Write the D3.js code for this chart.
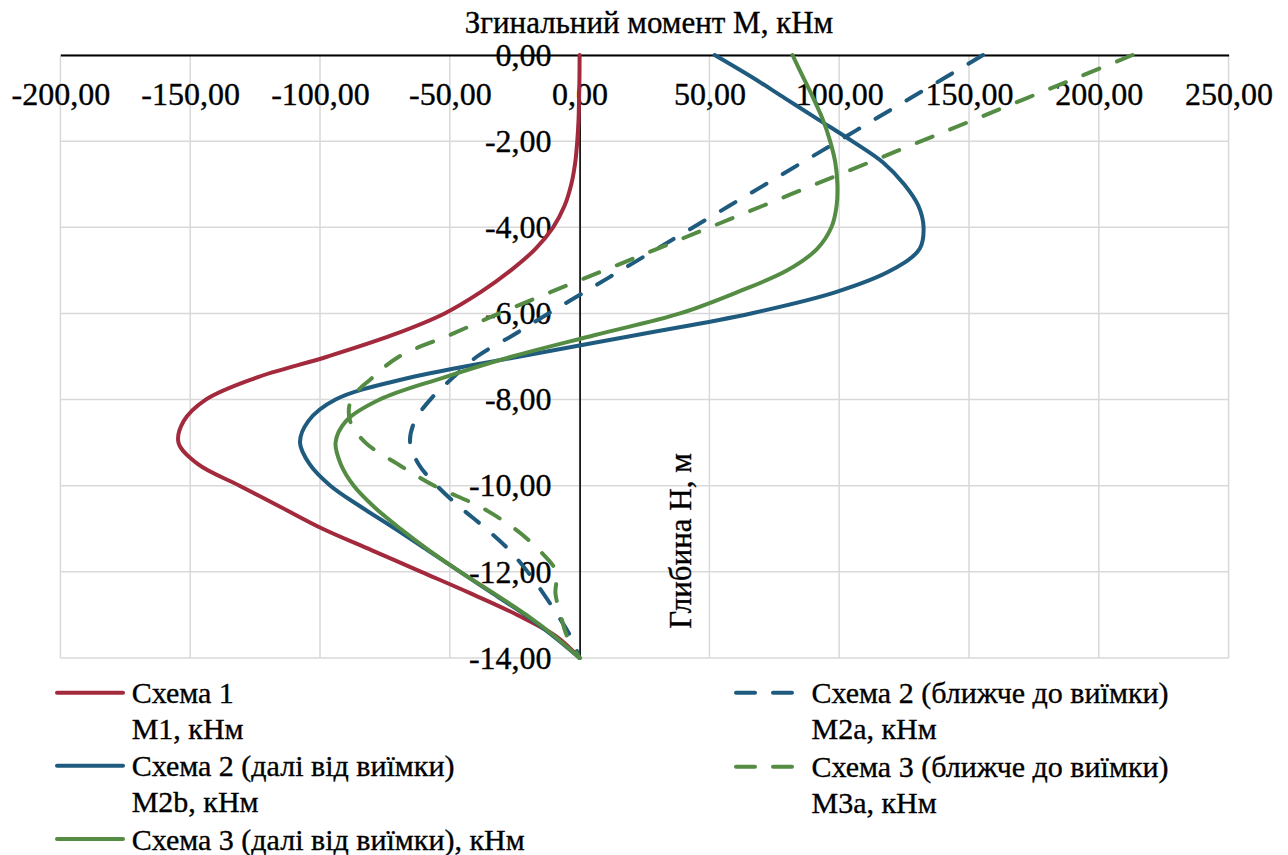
<!DOCTYPE html>
<html>
<head>
<meta charset="utf-8">
<script src="https://cdn.jsdelivr.net/npm/d3@7/dist/d3.min.js"></script>
<style>
  html, body { margin: 0; padding: 0; background: #fff; }
  svg text { font-family: 'Liberation Serif', 'Times New Roman', Tinos, 'DejaVu Serif', serif; }
</style>
</head>
<body>
<svg id="chart" width="1288" height="855"></svg>
<script>
// Depth along the pile, m (0 at the top, -14 at the toe)
const depths = [0, -0.5, -1, -1.5, -2, -2.5, -3, -3.5, -4, -4.5, -5, -5.5, -6, -6.5, -7,
  -7.5, -8, -8.5, -9, -9.5, -10, -10.5, -11, -11.5, -12, -12.5, -13, -13.5, -14];

// Bending moment, kN·m, at each depth
const m1 = [0, -0.05, -0.2, -0.4, -0.9, -1.7, -3.2, -5.8, -10.2, -17, -26.5, -38, -52, -72, -97,
  -125, -144, -152.5, -154.5, -147, -131, -115, -99, -80, -61, -42, -24, -9, 0];
const m2a = [155.4, 141.5, 127.5, 113.5, 99.6, 85.6, 71.7, 57.7, 43.8, 29.8, 15.9, 2, -12, -25.5, -39.5,
  -49, -57.5, -63.5, -65.3, -62, -55, -46, -36, -27, -20, -14, -8.5, -3.5, 0];
const m2b = [52, 66, 79, 92, 105, 117, 125, 130.5, 132.5, 131, 120, 99, 66, 22, -23,
  -66, -94, -104.5, -107.7, -104, -96, -84, -71, -58.5, -46, -33.5, -21, -10, 0];
const m3a = [213, 192.7, 172.3, 152, 131.6, 111.3, 90.9, 70.6, 50.2, 29.9, 9.5, -11, -31, -50, -69.5,
  -80, -88, -88.4, -82.5, -70, -56, -38, -25, -15.5, -9, -9.3, -7.3, -4.8, 0];
const m3b = [82, 86, 90, 93.7, 96.5, 98.5, 99.3, 99, 97, 91.5, 80, 61, 38.7, 6, -26,
  -53, -77, -90, -94, -92, -87, -79, -69, -58, -46, -33, -20.5, -9.5, 0];

const xTicks = [-200, -150, -100, -50, 0, 50, 100, 150, 200, 250];
const yTicks = [0, -2, -4, -6, -8, -10, -12, -14];

const seriesNames = [
  ["Схема 1", "М1, кНм"],
  ["Схема 2 (ближче до виїмки)", "М2а, кНм"],
  ["Схема 2 (далі від виїмки)", "М2b, кНм"],
  ["Схема 3 (ближче до виїмки)", "М3а, кНм"],
  ["Схема 3 (далі від виїмки), кНм"]
];
const seriesValues = [m1, m2a, m2b, m3a, m3b];
const seriesColors = ["#A3293D", "#1F5B7F", "#1F5B7F", "#548C44", "#548C44"];
const seriesDashed = [false, true, false, true, false];

const xTitle = "Згинальний момент М, кНм";
const yTitle = "Глибина Н, м";

const FONT = "'Liberation Serif', 'Times New Roman', Tinos, 'DejaVu Serif', serif";

const svg = d3.select("#chart");

const x = d3.scaleLinear().domain([-200, 250]).range([60.4, 1228.6]);
const y = d3.scaleLinear().domain([0, -14]).range([55, 658]);

const locale = d3.formatLocale({ decimal: ",", thousands: " ", grouping: [3], currency: ["", ""], minus: "-" });
const fmt = locale.format(".2f");

// text helper: serif face with a slightly heavier outline
function styleText(sel, size) {
  sel.style("font-family", FONT).style("font-size", size + "px")
    .attr("fill", "#000").attr("stroke", "#000").attr("stroke-width", 0.35);
  return sel;
}

// gridlines
const grid = svg.append("g").attr("stroke", "#D9D9D9").attr("stroke-width", 1.5);
grid.selectAll("line.v").data(xTicks).join("line").attr("class", "v")
  .attr("x1", d => x(d)).attr("x2", d => x(d)).attr("y1", y(0)).attr("y2", y(-14));
grid.selectAll("line.h").data(yTicks).join("line").attr("class", "h")
  .attr("x1", x(-200)).attr("x2", x(250)).attr("y1", d => y(d)).attr("y2", d => y(d));

// horizontal axis along the top edge, labels below it
const xAxis = svg.append("g").attr("transform", `translate(0,${y(0)})`)
  .call(d3.axisBottom(x).tickValues(xTicks).tickFormat(fmt).tickSize(0).tickSizeOuter(0).tickPadding(27));
xAxis.attr("font-family", null).attr("font-size", null);
xAxis.select(".domain").attr("stroke", "#000").attr("stroke-width", 2.2);
styleText(xAxis.selectAll("text"), 32);

// vertical axis through M = 0
const yAxis = svg.append("g").attr("transform", `translate(${x(0)},0)`)
  .call(d3.axisLeft(y).tickValues(yTicks).tickFormat(fmt).tickSize(0).tickSizeOuter(0).tickPadding(28));
yAxis.attr("font-family", null).attr("font-size", null);
yAxis.select(".domain").attr("stroke", "#000").attr("stroke-width", 1.6);
styleText(yAxis.selectAll("text"), 32);

// series
const line = d3.line().curve(d3.curveCatmullRom.alpha(0.5))
  .x(d => x(d[1])).y(d => y(d[0]));
seriesValues.forEach((vals, i) => {
  svg.append("path")
    .datum(depths.map((dp, k) => [dp, vals[k]]))
    .attr("d", line)
    .attr("fill", "none")
    .attr("stroke", seriesColors[i])
    .attr("stroke-width", 4)
    .attr("stroke-linecap", "round")
    .attr("stroke-linejoin", "round")
    .attr("stroke-dasharray", seriesDashed[i] ? "17,19" : null);
});

// axis titles
styleText(svg.append("text").attr("x", 649).attr("y", 33).attr("text-anchor", "middle"), 31).text(xTitle);
styleText(svg.append("text").attr("transform", "translate(691,541) rotate(-90)").attr("text-anchor", "middle"), 31).text(yTitle);

// legend: two columns, entries filled row by row
const legendPos = [
  { lx: 57, tx: 131.7, ly: 692.7 },
  { lx: 736, tx: 811.5, ly: 692.7 },
  { lx: 57, tx: 131.7, ly: 765.7 },
  { lx: 736, tx: 811.5, ly: 766.7 },
  { lx: 57, tx: 131.7, ly: 839 }
];
const legend = svg.append("g");
seriesNames.forEach((lines, i) => {
  const p = legendPos[i];
  const g = legend.append("g");
  g.append("line")
    .attr("x1", p.lx).attr("x2", p.lx + (seriesDashed[i] ? 56 : 66))
    .attr("y1", p.ly).attr("y2", p.ly)
    .attr("stroke", seriesColors[i]).attr("stroke-width", 4).attr("stroke-linecap", "round")
    .attr("stroke-dasharray", seriesDashed[i] ? "19,18" : null);
  lines.forEach((t, j) => {
    styleText(g.append("text").attr("x", p.tx).attr("y", p.ly + 10.5 + j * 35.5), 30).text(t);
  });
});
</script>
</body>
</html>
